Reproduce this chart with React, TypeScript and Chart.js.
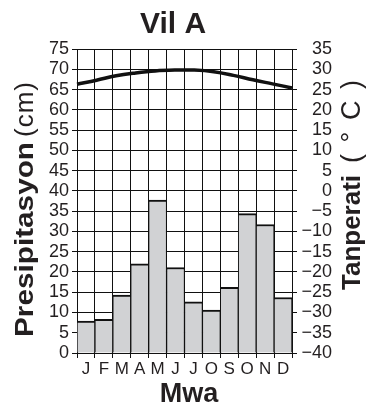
import React, { useEffect, useRef } from 'react';
import { Chart, registerables } from 'chart.js';

Chart.register(...registerables);

const months = ['J', 'F', 'M', 'A', 'M', 'J', 'J', 'O', 'S', 'O', 'N', 'D'];
const precipitation = [7.9, 8.3, 14.3, 22.0, 37.7, 21.1, 12.6, 10.6, 16.2, 34.4, 31.7, 13.7];
const temperature = [26.3, 27.3, 28.4, 29.1, 29.6, 29.8, 29.8, 29.4, 28.5, 27.4, 26.4, 25.4];
const precipRange = [0, 75];
const tempRange = [-40, 35];
const tickStep = 5;

const titleText = 'Vil A';
const xTitleText = 'Mwa';
const leftTitleBold = 'Presipitasyon';
const leftTitleUnit = '(cm)';
const rightTitleBold = 'Tanperati';
const rightTitleUnit = '(°C)';

const FONT = "'Liberation Sans', Arial, Helvetica, sans-serif";
const INK = '#231f20';

function drawStretchedVertical(ctx: CanvasRenderingContext2D, text: string, font: string, baseX: number, yStart: number, yEnd: number) {
  ctx.save();
  ctx.font = font;
  const w = ctx.measureText(text).width;
  const s = (yStart - yEnd) / w;
  ctx.translate(baseX, yStart);
  ctx.rotate(-Math.PI / 2);
  ctx.scale(s, 1);
  ctx.textAlign = 'left';
  ctx.textBaseline = 'alphabetic';
  ctx.fillText(text, 0, 0);
  ctx.restore();
}

function drawSpacedVertical(ctx: CanvasRenderingContext2D, text: string, font: string, baseX: number, yStart: number, yEnd: number) {
  ctx.save();
  ctx.font = font;
  const chars = Array.from(text);
  const widths = chars.map((c) => ctx.measureText(c).width);
  const total = widths.reduce((a, b) => a + b, 0);
  const L = yStart - yEnd;
  const gap = chars.length > 1 ? (L - total) / (chars.length - 1) : 0;
  ctx.translate(baseX, yStart);
  ctx.rotate(-Math.PI / 2);
  ctx.textAlign = 'left';
  ctx.textBaseline = 'alphabetic';
  let x = 0;
  chars.forEach((c, i) => {
    ctx.fillText(c, x, 0);
    x += widths[i] + gap;
  });
  ctx.restore();
}

const textPlugin = {
  id: 'customTexts',
  afterDraw(chart: any) {
    const ctx: CanvasRenderingContext2D = chart.ctx;
    ctx.save();
    ctx.fillStyle = INK;
    ctx.textAlign = 'center';
    ctx.textBaseline = 'alphabetic';
    ctx.font = `bold 30px ${FONT}`;
    ctx.fillText(titleText, 173, 33);
    ctx.font = `bold 27px ${FONT}`;
    ctx.fillText(xTitleText, 189, 402);
    drawStretchedVertical(ctx, leftTitleBold, `bold 26px ${FONT}`, 33, 337, 142);
    drawSpacedVertical(ctx, leftTitleUnit, `26px ${FONT}`, 33, 137, 82);
    drawStretchedVertical(ctx, rightTitleBold, `bold 26px ${FONT}`, 360, 290, 175);
    drawSpacedVertical(ctx, rightTitleUnit, `27px ${FONT}`, 360, 163, 80);
    ctx.restore();
  },
};

export default function App() {
  const canvasRef = useRef<HTMLCanvasElement | null>(null);

  useEffect(() => {
    document.body.style.margin = '0';
    const canvas = canvasRef.current;
    if (!canvas) return;
    const chart = new Chart(canvas, {
      type: 'bar',
      data: {
        labels: months,
        datasets: [
          {
            type: 'line',
            data: temperature,
            xAxisID: 'x2',
            yAxisID: 'y2',
            borderColor: '#111',
            borderWidth: 3.5,
            pointRadius: 0,
            tension: 0.4,
            fill: false,
            order: 0,
          } as any,
          {
            type: 'bar',
            data: precipitation,
            xAxisID: 'x',
            yAxisID: 'y',
            backgroundColor: '#d1d2d4',
            borderColor: '#111',
            borderWidth: { top: 2, left: 1, right: 1, bottom: 0 },
            borderSkipped: false,
            barPercentage: 1,
            categoryPercentage: 1,
            grouped: false,
            order: 1,
          } as any,
        ],
      },
      options: {
        animation: false,
        responsive: false,
        maintainAspectRatio: false,
        layout: { padding: { top: 49, left: 0, right: 35, bottom: 25 } },
        plugins: {
          legend: { display: false },
          title: { display: false },
          tooltip: { enabled: false },
        },
        scales: {
          x: {
            type: 'category',
            position: 'bottom',
            offset: true,
            grid: { offset: true, color: '#111', lineWidth: 1, tickLength: 5, tickColor: '#111' },
            border: { color: '#111', width: 1 },
            ticks: {
              color: INK,
              font: { family: FONT, size: 17 },
              padding: 1,
              autoSkip: false,
              maxRotation: 0,
              minRotation: 0,
            },
            afterFit: (s: any) => { s.height = 30; },
          },
          x2: {
            type: 'category',
            labels: months,
            offset: false,
            display: false,
          },
          y: {
            type: 'linear',
            position: 'left',
            min: precipRange[0],
            max: precipRange[1],
            grid: { color: '#111', lineWidth: 1, tickLength: 5, tickColor: '#111' },
            border: { color: '#111', width: 1 },
            ticks: {
              stepSize: tickStep,
              autoSkip: false,
              color: INK,
              font: { family: FONT, size: 18 },
              padding: 3,
            },
            afterFit: (s: any) => { s.width = 77; },
          },
          y2: {
            type: 'linear',
            position: 'right',
            min: tempRange[0],
            max: tempRange[1],
            grid: { drawOnChartArea: false, color: '#111', lineWidth: 1, tickLength: 5, tickColor: '#111' },
            border: { color: '#111', width: 1 },
            ticks: {
              stepSize: tickStep,
              autoSkip: false,
              color: INK,
              font: { family: FONT, size: 18 },
              padding: 3,
              crossAlign: 'far',
              callback: (v: any) => (Number(v) < 0 ? '\u2212' + Math.abs(Number(v)) : String(v)),
            },
            afterFit: (s: any) => { s.width = 40; },
          },
        },
      } as any,
      plugins: [textPlugin],
    });
    return () => chart.destroy();
  }, []);

  return (
    <div style={{ width: 367, height: 408 }}>
      <canvas ref={canvasRef} width={367} height={408} style={{ display: 'block' }} />
    </div>
  );
}
